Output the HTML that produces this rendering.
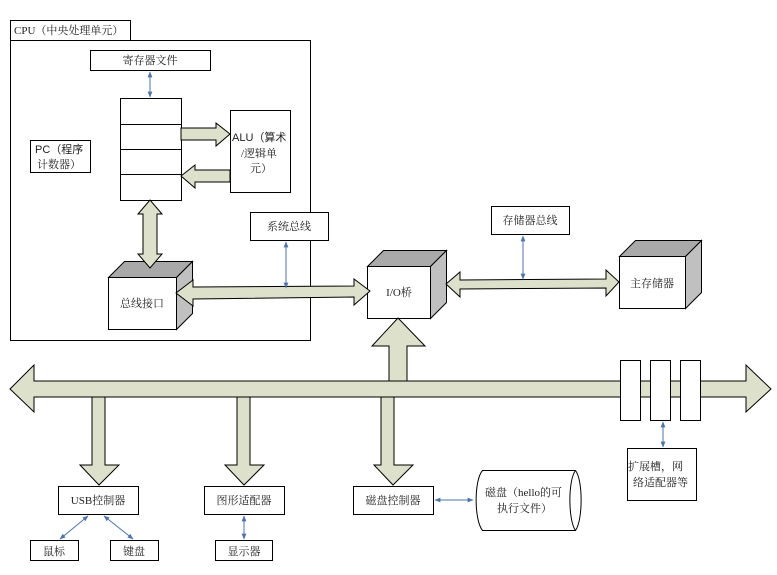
<!DOCTYPE html>
<html><head><meta charset="utf-8"><style>
html,body{margin:0;padding:0;background:#fff;}
text{font-family:"Liberation Serif","Noto Serif CJK SC","Noto Sans CJK SC",serif;font-size:11px;fill:#222;}
</style></head><body>
<svg width="777" height="570" viewBox="0 0 777 570" xmlns="http://www.w3.org/2000/svg">
<defs>
<marker id="a" viewBox="0 0 10 10" refX="9" refY="5" markerWidth="6" markerHeight="6" orient="auto-start-reverse"><path d="M0,1 L10,5 L0,9 z" fill="#4f74a8"/></marker>
</defs>
<g stroke="#000" stroke-width="1" fill="#fff">
<rect x="10.5" y="20.5" width="120" height="20"/>
<rect x="10.5" y="40.5" width="300" height="300"/>
<rect x="90.5" y="50.5" width="120" height="20"/>
<rect x="120.5" y="98.5" width="61" height="102"/>
<line x1="120" y1="124.5" x2="181" y2="124.5"/>
<line x1="120" y1="149.5" x2="181" y2="149.5"/>
<line x1="120" y1="174.5" x2="181" y2="174.5"/>
<rect x="230.5" y="110.5" width="60" height="82"/>
<rect x="30.5" y="140.5" width="60" height="32"/>
<rect x="250.5" y="212.5" width="78" height="28"/>
<rect x="491.5" y="206.5" width="78" height="28"/>
</g>
<!-- cubes -->
<g stroke="#000" stroke-width="1">
<path d="M108.5,277.5 L124.5,261.5 H192.5 L176.5,277.5 Z" fill="#a9a9a9"/>
<path d="M176.5,277.5 L192.5,261.5 V313.5 L176.5,329.5 Z" fill="#c0c0c0"/>
<rect x="108.5" y="277.5" width="68" height="52" fill="#fff"/>
<path d="M367.5,266.5 L383.5,250.5 H446.5 L430.5,266.5 Z" fill="#a9a9a9"/>
<path d="M430.5,266.5 L446.5,250.5 V302.5 L430.5,318.5 Z" fill="#c0c0c0"/>
<rect x="367.5" y="266.5" width="63" height="52" fill="#fff"/>
<path d="M619.5,256.5 L635.5,240.5 H701.5 L685.5,256.5 Z" fill="#a9a9a9"/>
<path d="M685.5,256.5 L701.5,240.5 V292.5 L685.5,308.5 Z" fill="#c0c0c0"/>
<rect x="619.5" y="256.5" width="66" height="52" fill="#fff"/>
</g>
<g stroke="#000" stroke-width="1" fill="#dde0cb">
<path d="M181,128 H216 V123 L230,134 L216,146 V140 H181 Z"/>
<path d="M230,170 H195 V165 L181,176 L195,188 V182 H230 Z"/>
<path d="M143,214 H138 L150,200 L162,214 H157 V254 H162 L150,268 L138,254 H143 Z"/>
<path d="M193,287 V280 L176,293 L193,306 V299 L354,297 V305 L370,291 L354,279 V286 Z"/>
<path d="M460,280 V272 L446,284 L460,297 V289 L606,288 V296 L619,282 L606,270 V279 Z"/>
<path d="M389,381 V346 H372 L398,318 L425,346 H407 V381 Z"/>
<path d="M10,389 L34,365 V381 H746 V365 L771,389 L746,412 V397 H34 V412 Z"/>
<path d="M92,397 V465 H80 L99,485 L119,465 H105 V397 Z"/>
<path d="M237,397 V465 H225 L244,485 L264,465 H250 V397 Z"/>
<path d="M381,397 V465 H374 L393,485 L413,465 H394 V397 Z"/>
</g>
<g stroke="#000" stroke-width="1" fill="#fff">
<rect x="620.5" y="360.5" width="20" height="60"/>
<rect x="650.5" y="360.5" width="20" height="60"/>
<rect x="680.5" y="360.5" width="20" height="60"/>
<rect x="58.5" y="486.5" width="80" height="28"/>
<rect x="30.5" y="540.5" width="48" height="20"/>
<rect x="110.5" y="540.5" width="48" height="20"/>
<rect x="204.5" y="486.5" width="80" height="28"/>
<rect x="215.5" y="540.5" width="57" height="20"/>
<rect x="353.5" y="486.5" width="80" height="28"/>
<rect x="627.5" y="448.5" width="69" height="52"/>
<path d="M482.5,470.5 H575.5 C583,480 583,520 575.5,530.5 H482.5 C474,520 474,480 482.5,470.5 Z"/>
<path d="M575.5,470.5 C568,480 568,520 575.5,530.5" fill="none"/>
</g>
<g stroke="#4f74a8" stroke-width="1" fill="none">
<line x1="150" y1="72" x2="150" y2="97" marker-start="url(#a)" marker-end="url(#a)"/>
<line x1="286" y1="242" x2="286" y2="288" marker-start="url(#a)" marker-end="url(#a)"/>
<line x1="523" y1="236" x2="523" y2="279" marker-start="url(#a)" marker-end="url(#a)"/>
<line x1="663" y1="422" x2="663" y2="447" marker-start="url(#a)" marker-end="url(#a)"/>
<line x1="88" y1="516" x2="60" y2="539" marker-start="url(#a)" marker-end="url(#a)"/>
<line x1="104" y1="516" x2="133" y2="539" marker-start="url(#a)" marker-end="url(#a)"/>
<line x1="244" y1="516" x2="244" y2="539" marker-start="url(#a)" marker-end="url(#a)"/>
<line x1="435" y1="500" x2="473" y2="500" marker-start="url(#a)" marker-end="url(#a)"/>
</g>
<text x="14" y="34">CPU（中央处理单元）</text>
<text x="150" y="64" text-anchor="middle">寄存器文件</text>
<text x="35" y="153" style="font-family:'Liberation Sans','Noto Sans CJK SC',sans-serif">PC（程序</text>
<text x="37" y="168">计数器）</text>
<text x="232" y="141" style="font-family:'Liberation Sans','Noto Sans CJK SC',sans-serif">ALU（算术</text>
<text x="241" y="157">/逻辑单</text>
<text x="250" y="172">元）</text>
<text x="289" y="230" text-anchor="middle">系统总线</text>
<text x="530" y="224" text-anchor="middle">存储器总线</text>
<text x="142" y="307" text-anchor="middle">总线接口</text>
<text x="399" y="296" text-anchor="middle">I/O桥</text>
<text x="652" y="287" text-anchor="middle">主存储器</text>
<text x="98" y="504" text-anchor="middle">USB控制器</text>
<text x="54" y="555" text-anchor="middle">鼠标</text>
<text x="134" y="555" text-anchor="middle">键盘</text>
<text x="244" y="504" text-anchor="middle">图形适配器</text>
<text x="244" y="555" text-anchor="middle">显示器</text>
<text x="393" y="504" text-anchor="middle">磁盘控制器</text>
<text x="485" y="496">磁盘（hello的可</text>
<text x="497" y="512">执行文件）</text>
<text x="628" y="470">扩展槽，网</text>
<text x="633" y="486">络适配器等</text>
</svg>
</body></html>
